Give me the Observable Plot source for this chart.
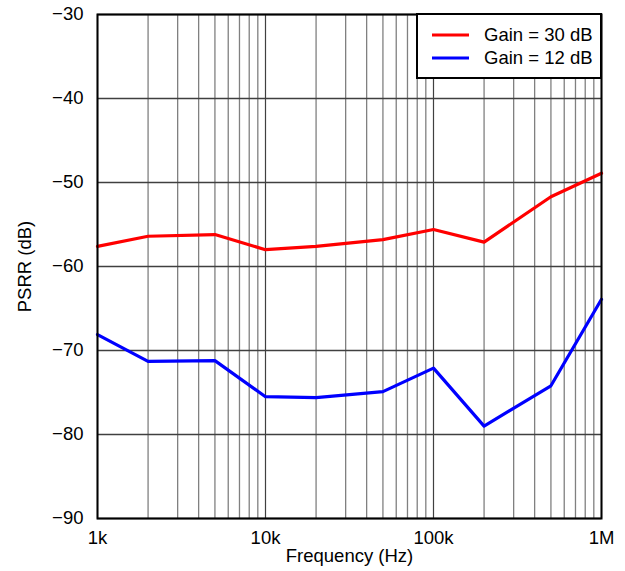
<!DOCTYPE html>
<html><head><meta charset="utf-8">
<script src="https://cdn.jsdelivr.net/npm/d3@7"></script>
<script src="https://cdn.jsdelivr.net/npm/@observablehq/plot@0.6"></script>
<style>body{margin:0;background:#fff;font-family:"Liberation Sans",Arial,sans-serif}</style>
</head><body><div id="chart"></div>
<script>
const freqs = [1e3, 2e3, 5e3, 1e4, 2e4, 5e4, 1e5, 2e5, 5e5, 1e6];
const gain30 = [-57.6, -56.4, -56.2, -58.0, -57.6, -56.8, -55.6, -57.1, -51.7, -48.9];
const gain12 = [-68.1, -71.3, -71.2, -75.5, -75.6, -74.9, -72.1, -79.0, -74.2, -63.9];
const seriesNames = ["Gain = 30 dB", "Gain = 12 dB"];
const seriesColors = ["#ff0000", "#0000ff"];
const xTicks = [1e3, 1e4, 1e5, 1e6];
const xTickLabels = ["1k", "10k", "100k", "1M"];
const yTicks = [-90, -80, -70, -60, -50, -40, -30];
const xLabel = "Frequency (Hz)";
const yLabel = "PSRR (dB)";

const minorX = [];
for (let d = 1e3; d < 1e6; d *= 10) for (let k = 2; k <= 9; k++) minorX.push(d * k);

const data = [];
[gain30, gain12].forEach((vals, s) => freqs.forEach((f, i) => data.push({f, v: vals[i], s: seriesNames[s]})));

const FS = 18.5;
const plot = Plot.plot({
  width: 625, height: 571,
  marginLeft: 97, marginRight: 24, marginTop: 14, marginBottom: 53,
  style: {fontFamily: '"Liberation Sans", Arial, sans-serif', fontSize: FS + "px", color: "#000", background: "#fff"},
  x: {type: "log", domain: [1e3, 1e6]},
  y: {domain: [-90, -30]},
  color: {domain: seriesNames, range: seriesColors},
  marks: [
    Plot.ruleX(minorX, {stroke: "#808080", strokeWidth: 1.3}),
    Plot.ruleX(xTicks, {stroke: "#404040", strokeWidth: 1.2}),
    Plot.ruleY(yTicks, {stroke: "#404040", strokeWidth: 1.3}),
    Plot.line(data, {x: "f", y: "v", z: "s", stroke: "s", strokeWidth: 3.2}),
    Plot.axisX({ticks: xTicks, tickFormat: d => xTickLabels[xTicks.indexOf(d)], tickSize: 0, tickPadding: 12, fontSize: FS, label: null}),
    Plot.axisY({ticks: yTicks, tickFormat: d => String(d).replace("-", "\u2212"), tickSize: 0, tickPadding: 14, fontSize: FS, label: null}),
    Plot.text([xLabel], {text: d => d, frameAnchor: "bottom", lineAnchor: "middle", textAnchor: "middle", dy: 38, fontSize: FS, fill: "#000"}),
    Plot.text([yLabel], {text: d => d, frameAnchor: "left", lineAnchor: "middle", textAnchor: "middle", rotate: -90, dx: -72, fontSize: FS, fill: "#000"}),
    Plot.frame({stroke: "#000", strokeWidth: 2})
  ]
});
document.getElementById("chart").appendChild(plot);

// legend inside the plot area, top right
const xr = plot.scale("x").range, yr = plot.scale("y").range;
const legRight = xr[1], legTop = yr[1];
const svg = d3.select(plot);
const g = svg.append("g").attr("text-anchor", "start");
const w = 184, h = 64;
g.append("rect").attr("x", legRight - w).attr("y", legTop).attr("width", w).attr("height", h)
  .attr("fill", "#fff").attr("stroke", "#000").attr("stroke-width", 2);
seriesNames.forEach((name, i) => {
  const yy = legTop + 21 + i * 23;
  g.append("line").attr("x1", legRight - w + 15).attr("x2", legRight - w + 52).attr("y1", yy).attr("y2", yy)
    .attr("stroke", seriesColors[i]).attr("stroke-width", 3.2);
  g.append("text").attr("x", legRight - w + 67).attr("y", yy).attr("dy", "0.35em")
    .attr("font-size", FS).attr("fill", "#000").text(name);
});
</script></body></html>
